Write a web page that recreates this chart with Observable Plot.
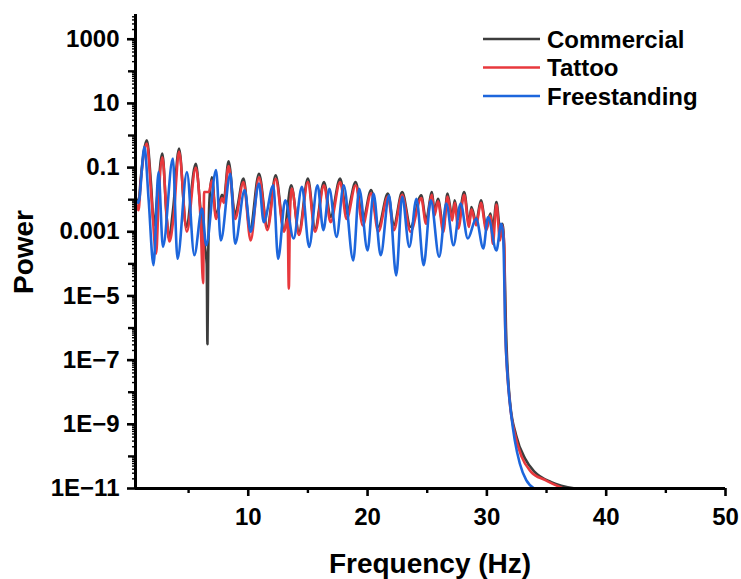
<!DOCTYPE html>
<html>
<head>
<meta charset="utf-8">
<script src="https://cdn.jsdelivr.net/npm/d3@7"></script>
<script src="https://cdn.jsdelivr.net/npm/@observablehq/plot@0.6"></script>
<style>
  html, body { margin: 0; padding: 0; background: #fff; }
  #chart { width: 741px; height: 579px; }
</style>
</head>
<body>
<div id="chart"></div>
<script>
// ---- Data (frequency in Hz, power given as log10 of value) ----
const commercialFreq = [0.55, 0.8, 1.0, 1.5, 1.85, 2.1, 2.4, 2.8, 3.15, 3.35, 3.7, 4.2, 4.8, 5.6, 6.0, 6.3, 6.52, 6.58, 6.64, 6.75, 6.95, 7.3, 7.8, 7.95, 8.35, 8.9, 9.05, 9.6, 10.15, 10.9, 11.6, 12.3, 13.0, 13.6, 14.25, 15.0, 15.6, 16.35, 16.9, 17.7, 18.25, 19.0, 19.6, 20.3, 20.9, 21.7, 22.2, 22.9, 23.6, 24.5, 24.9, 25.4, 25.6, 25.9, 26.35, 26.7, 27.1, 27.3, 27.6, 28.1, 28.5, 28.7, 29.1, 29.5, 29.95, 30.3, 30.5, 30.8, 31.1, 31.3, 31.45, 31.6, 31.95, 32.45, 33.2, 34.0, 35.4, 37.4];
const commercialLogPower = [-1.9, -2.1, -1.3, -0.15, -1.5, -2.8, -1.8, -0.56, -2.5, -3.2, -2.3, -0.41, -2.85, -0.88, -2.3, -3.3, -4.0, -6.5, -4.0, -2.0, -1.3, -2.5, -1.85, -2.0, -0.8, -2.5, -2.3, -1.34, -2.95, -1.19, -2.85, -1.24, -2.95, -1.55, -3.0, -1.34, -2.9, -1.45, -2.54, -1.34, -2.43, -1.45, -2.64, -1.7, -2.85, -1.81, -2.8, -1.76, -2.85, -1.86, -2.64, -1.76, -2.38, -1.97, -2.85, -1.81, -2.54, -2.02, -2.6, -1.76, -2.75, -2.23, -2.7, -2.02, -2.85, -2.43, -2.9, -2.07, -2.9, -2.75, -3.5, -6.0, -8.35, -9.34, -10.07, -10.48, -10.8, -11];

const tattooFreq = [0.55, 0.8, 1.0, 1.5, 1.9, 2.28, 2.5, 2.8, 3.2, 3.4, 3.75, 4.2, 4.85, 5.6, 6.0, 6.22, 6.3, 6.7, 6.95, 7.3, 7.8, 7.95, 8.35, 8.9, 9.6, 10.2, 10.9, 11.6, 12.3, 13.0, 13.3, 13.4, 13.5, 13.65, 14.25, 15.0, 15.6, 16.35, 16.9, 17.7, 18.25, 19.0, 19.6, 20.3, 20.9, 21.7, 22.2, 22.9, 23.6, 24.5, 24.9, 25.4, 25.6, 25.9, 26.35, 26.7, 27.1, 27.3, 27.6, 28.1, 28.5, 28.7, 29.1, 29.5, 29.95, 30.3, 30.5, 30.8, 31.1, 31.3, 31.45, 31.55, 31.9, 32.34, 32.9, 33.7, 34.9, 36.4];
const tattooLogPower = [-2.0, -2.33, -1.4, -0.25, -2.0, -3.68, -1.9, -0.68, -2.7, -3.3, -2.5, -0.5, -3.0, -1.0, -2.6, -4.6, -1.76, -1.76, -1.4, -2.6, -1.95, -2.1, -0.95, -2.6, -1.45, -3.27, -1.3, -2.95, -1.35, -3.0, -2.6, -4.77, -2.4, -1.65, -3.1, -1.45, -3.0, -1.55, -2.7, -1.45, -2.6, -1.55, -2.8, -1.8, -3.0, -1.9, -2.95, -1.85, -3.0, -1.95, -2.75, -1.85, -2.5, -2.05, -3.0, -1.9, -2.65, -2.1, -2.9, -1.85, -2.85, -2.3, -2.8, -2.1, -2.95, -2.5, -3.37, -2.15, -3.27, -2.8, -3.4, -6.17, -8.25, -9.29, -10.0, -10.48, -10.74, -11];

const freestandingFreq = [0.55, 0.8, 1.3, 1.65, 2.06, 2.48, 2.85, 3.68, 4.07, 4.86, 5.48, 6.12, 6.48, 7.3, 7.7, 8.5, 8.9, 9.7, 10.2, 10.9, 11.3, 12.1, 12.5, 13.1, 13.8, 14.5, 15.1, 15.8, 16.3, 16.8, 17.4, 18.0, 18.8, 19.3, 20.0, 20.5, 21.1, 21.8, 22.4, 22.9, 23.5, 24.1, 24.7, 25.3, 26.0, 26.6, 27.2, 27.8, 28.4, 29.1, 29.7, 30.1, 30.8, 31.2, 31.36, 31.55, 31.78, 32.06, 32.34, 32.76, 33.3, 33.97];
const freestandingLogPower = [-2.0, -2.1, -0.36, -2.0, -4.04, -1.14, -3.47, -0.72, -3.84, -1.14, -3.73, -2.28, -3.42, -1.08, -3.27, -1.19, -3.37, -1.7, -3.0, -1.5, -2.7, -1.55, -3.84, -2.02, -3.21, -1.6, -3.47, -1.55, -2.95, -1.66, -3.16, -1.55, -3.89, -1.66, -3.58, -1.81, -3.73, -1.86, -4.36, -1.91, -3.47, -1.97, -4.04, -2.02, -3.78, -2.12, -3.42, -2.12, -3.21, -2.59, -3.52, -2.54, -3.58, -2.75, -3.06, -6.17, -7.73, -8.77, -9.5, -10.22, -10.74, -11];

const seriesNames = ["Commercial", "Tattoo", "Freestanding"];
const seriesColors = ["#3d3d3d", "#e8383d", "#1d66dc"];

const xTickValues = [10, 20, 30, 40, 50];
const xMinorTickValues = [5, 15, 25, 35, 45];
const yTickValues = [1e3, 1e1, 1e-1, 1e-3, 1e-5, 1e-7, 1e-9, 1e-11];
const yTickLabels = ["1000", "10", "0.1", "0.001", "1E\u22125", "1E\u22127", "1E\u22129", "1E\u221211"];
const yMidTickValues = [1e2, 1e0, 1e-2, 1e-4, 1e-6, 1e-8, 1e-10];

const xLabel = "Frequency (Hz)";
const yLabel = "Power";

// ---- Build tidy rows ----
function rows(name, fs, ls) {
  return fs.map((f, i) => ({series: name, f, p: Math.pow(10, ls[i])}));
}
const data = [
  rows("Commercial", commercialFreq, commercialLogPower),
  rows("Tattoo", tattooFreq, tattooLogPower),
  rows("Freestanding", freestandingFreq, freestandingLogPower)
];

const yMinor = [];
for (let e = -11; e <= 3; e++) for (let k = 2; k <= 9; k++) { const v = k * Math.pow(10, e); if (v < 5900) yMinor.push(v); }

const labelMap = new Map(yTickValues.map((v, i) => [v, yTickLabels[i]]));
const font = "'Liberation Sans', Arial, Helvetica, sans-serif";
const X0 = 0.55, Y0 = 1e-11;

const chart = Plot.plot({
  width: 741,
  height: 579,
  marginLeft: 135,
  marginRight: 16,
  marginTop: 14,
  marginBottom: 91,
  style: {fontFamily: font, fontWeight: "bold", background: "#fff", color: "#000", overflow: "visible"},
  x: {domain: [X0, 50]},
  y: {type: "log", domain: [Y0, 5900]},
  marks: [
    ...data.map((d, i) => Plot.line(d, {x: "f", y: "p", stroke: seriesColors[i], strokeWidth: 2.6, curve: "monotone-x"})),
    Plot.axisX({ticks: xTickValues, tickSize: 8, tickPadding: 11, fontSize: 24, label: null, stroke: "#000", strokeWidth: 2.6, tickFormat: d => String(d)}),
    Plot.axisX({ticks: xMinorTickValues, tickSize: 5, label: null, stroke: "#000", strokeWidth: 2.4, tickFormat: () => ""}),
    Plot.axisY({ticks: yTickValues, tickSize: 8, tickPadding: 8, fontSize: 24, label: null, stroke: "#000", strokeWidth: 2.6, tickFormat: d => labelMap.get(d)}),
    Plot.axisY({ticks: yMidTickValues, tickSize: 7, label: null, stroke: "#000", strokeWidth: 2.4, tickFormat: () => ""}),
    Plot.axisY({ticks: yMinor, tickSize: 3, label: null, stroke: "#000", strokeWidth: 1.4, tickFormat: () => ""}),
    Plot.ruleX([X0], {strokeWidth: 3}),
    Plot.ruleY([Y0], {strokeWidth: 3})
  ]
});

document.getElementById("chart").appendChild(chart);

// ---- Axis titles and legend ----
const svg = d3.select(chart);
svg.append("text")
  .attr("x", 430).attr("y", 573)
  .attr("text-anchor", "middle")
  .style("font-family", font).style("font-weight", "bold").style("font-size", "28px")
  .text(xLabel);
svg.append("text")
  .attr("transform", "translate(33,252) rotate(-90)")
  .attr("text-anchor", "middle")
  .style("font-family", font).style("font-weight", "bold").style("font-size", "28px")
  .text(yLabel);

const legend = svg.append("g");
seriesNames.forEach((name, i) => {
  const cy = 39 + i * 28.5;
  legend.append("line")
    .attr("x1", 483).attr("x2", 540).attr("y1", cy).attr("y2", cy)
    .attr("stroke", seriesColors[i]).attr("stroke-width", 2.6);
  legend.append("text")
    .attr("x", 547).attr("y", cy).attr("dy", "0.36em")
    .attr("text-anchor", "start")
    .style("font-family", font).style("font-weight", "bold").style("font-size", "24px")
    .style("text-anchor", "start")
    .text(name);
});
</script>
</body>
</html>
